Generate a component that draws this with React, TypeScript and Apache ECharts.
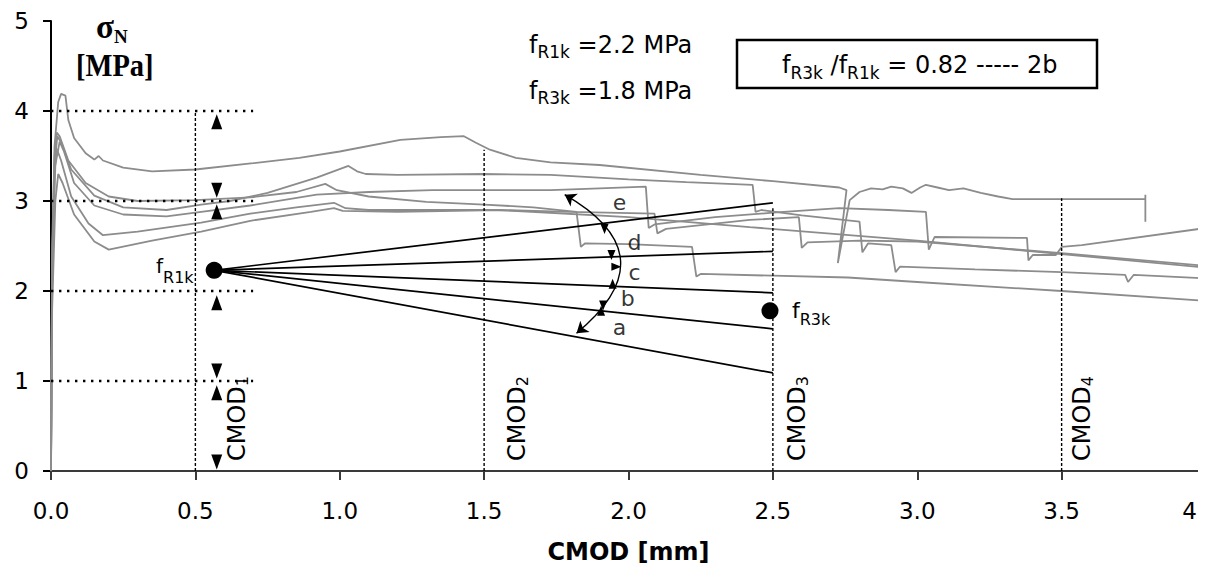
import React, { useEffect, useRef } from "react";
import * as echarts from "echarts";

// ---------- data ----------
const xTickValues = [0, 0.5, 1, 1.5, 2, 2.5, 3, 3.5, 4];

const specimenA: number[][] = [
  [0, 0], [0.003, 2.0], [0.012, 3.6], [0.025, 4.1], [0.035, 4.19], [0.05, 4.17], [0.06, 3.9],
  [0.08, 3.7], [0.12, 3.53], [0.15, 3.46], [0.165, 3.5], [0.18, 3.45], [0.25, 3.37], [0.35, 3.33],
  [0.5, 3.35], [0.7, 3.42], [0.86, 3.48], [1.0, 3.55], [1.21, 3.68], [1.35, 3.71], [1.43, 3.72],
  [1.47, 3.65], [1.52, 3.57], [1.61, 3.48], [1.73, 3.43], [1.9, 3.4], [2.25, 3.29], [2.5, 3.22],
  [2.73, 3.15], [2.755, 3.12], [2.725, 2.31], [2.766, 3.01], [2.8, 3.1], [2.84, 3.14], [2.88, 3.13],
  [2.91, 3.16], [2.95, 3.14], [2.98, 3.09], [3.01, 3.15], [3.03, 3.18], [3.07, 3.15], [3.11, 3.12],
  [3.16, 3.14], [3.22, 3.09], [3.28, 3.05], [3.33, 3.02], [3.79, 3.02], [3.79, 3.07], [3.79, 2.77],
];
const specimenB: number[][] = [
  [0, 0], [0.004, 2.3], [0.012, 3.4], [0.022, 3.72], [0.035, 3.65], [0.07, 3.35], [0.15, 3.06],
  [0.25, 2.93], [0.4, 2.9], [0.52, 2.96], [0.62, 3.0], [0.75, 3.09], [0.92, 3.26], [1.03, 3.39],
  [1.06, 3.33], [1.09, 3.3], [1.2, 3.29], [1.5, 3.3], [1.73, 3.29], [2.0, 3.24], [2.2, 3.21],
  [2.43, 3.18], [2.44, 2.88], [2.46, 2.9], [2.6, 2.84], [2.8, 2.77], [2.81, 2.43], [2.83, 2.53],
  [2.91, 2.51], [2.925, 2.21], [2.94, 2.27], [3.2, 2.24], [3.5, 2.21], [3.72, 2.18], [3.73, 2.1],
  [3.75, 2.18], [4.0, 2.14],
];
const specimenC: number[][] = [
  [0, 0], [0.004, 2.5], [0.012, 3.5], [0.02, 3.76], [0.03, 3.72], [0.06, 3.45], [0.12, 3.2],
  [0.2, 3.05], [0.3, 3.0], [0.5, 3.01], [0.69, 3.04], [0.85, 3.1], [0.95, 3.19], [0.99, 3.12],
  [1.1, 3.05], [1.3, 2.99], [1.5, 2.96], [1.67, 2.93], [1.82, 2.88], [1.835, 2.49], [1.85, 2.53],
  [2.0, 2.52], [2.22, 2.49], [2.235, 2.16], [2.25, 2.19], [2.5, 2.17], [2.76, 2.15], [3.0, 2.1],
  [3.5, 2.0], [4.0, 1.89],
];
const specimenD: number[][] = [
  [0, 0], [0.004, 2.2], [0.015, 3.4], [0.03, 3.66], [0.045, 3.55], [0.08, 3.2], [0.15, 2.95],
  [0.25, 2.85], [0.4, 2.83], [0.52, 2.88], [0.69, 2.95], [0.92, 3.07], [1.1, 3.1], [1.32, 3.12],
  [1.73, 3.12], [1.9, 3.14], [2.06, 3.16], [2.07, 2.7], [2.09, 2.74], [2.3, 2.82], [2.5, 2.87],
  [2.73, 2.92], [2.9, 2.9], [3.03, 2.88], [3.04, 2.46], [3.06, 2.6], [3.38, 2.59], [3.385, 2.34],
  [3.4, 2.4], [3.48, 2.4], [3.5, 2.49], [3.57, 2.51], [4.0, 2.7],
];
const specimenE: number[][] = [
  [0, 0], [0.004, 2.0], [0.012, 3.3], [0.02, 3.58], [0.035, 3.45], [0.07, 3.05], [0.13, 2.75],
  [0.18, 2.62], [0.3, 2.66], [0.52, 2.76], [0.69, 2.86], [0.85, 2.93], [0.98, 2.98], [1.02, 2.92],
  [1.1, 2.9], [1.55, 2.9], [2.0, 2.82], [2.42, 2.71], [3.0, 2.56], [3.5, 2.41], [4.0, 2.26],
];
const specimenF: number[][] = [
  [0, 0], [0.004, 1.8], [0.015, 3.0], [0.025, 3.3], [0.04, 3.2], [0.08, 2.85], [0.15, 2.55],
  [0.2, 2.46], [0.35, 2.56], [0.52, 2.66], [0.69, 2.78], [0.9, 2.88], [0.98, 2.92], [1.01, 2.89],
  [1.2, 2.88], [1.55, 2.9], [1.8, 2.88], [2.09, 2.86], [2.1, 2.64], [2.13, 2.69], [2.42, 2.79],
  [2.59, 2.82], [2.6, 2.48], [2.62, 2.54], [2.8, 2.56], [3.0, 2.55], [3.5, 2.42], [4.0, 2.28],
];
const specimens = [specimenA, specimenB, specimenC, specimenD, specimenE, specimenF];

const fR1kPoint = [0.565, 2.23];
const fR3kPoint = [2.49, 1.78];
const fanLabels = ["a", "b", "c", "d", "e"];
const fanEndX = 2.5;
const fanEndValues = [1.09, 1.58, 1.98, 2.44, 2.98];
const fanLabelPos = [[1.969, 1.59], [1.997, 1.92], [2.021, 2.21], [2.021, 2.54], [1.969, 2.98]];

const refLevels = [1, 2, 3, 4];
const refLevelEndX = 0.7;
const cmodX = [0.5, 1.5, 2.5, 3.5];
const cmodTop = [4.0, 3.57, 2.92, 3.03];
const cmodSubs = ["1", "2", "3", "4"];

const boundMarkX = 0.574;
const boundMarkY = [3.88, 3.12, 2.88, 1.87, 1.11, 0.87, 0.1];
const boundMarkDir = ["up", "down", "up", "up", "down", "up", "down"];

const arcStart = [1.779, 3.07];
const arcEnd = [1.82, 1.53];
const arcMarks = [[1.917, 2.69], [1.941, 2.4], [1.958, 2.27], [1.945, 2.08], [1.912, 1.84], [1.905, 1.78]];
const arcMarkDir = ["down", "down", "right", "up", "down", "up"];

// ---------- styles ----------
const FONT = '"DejaVu Sans", "Liberation Sans", sans-serif';
const SERIF = '"Liberation Serif", "DejaVu Serif", serif';
const GREY = "#8c8c8c";

const rot = (d: string) => (d === "down" ? 180 : d === "right" ? -90 : d === "left" ? 90 : 0);

function buildOption() {
  const series: any[] = [];
  specimens.forEach((d, i) =>
    series.push({
      type: "line", name: "specimen" + (i + 1), data: d, symbol: "none", showSymbol: false,
      lineStyle: { color: GREY, width: 1.8 }, z: 2, silent: true,
    })
  );
  refLevels.forEach((l) =>
    series.push({
      type: "line", data: [[0, l], [refLevelEndX, l]], symbol: "none",
      lineStyle: { color: "#000", width: 2.4, type: [2.4, 5.6] }, z: 3, silent: true,
    })
  );
  cmodX.forEach((x, i) =>
    series.push({
      type: "line", data: [[x, 0], [x, cmodTop[i]]], symbol: "none",
      lineStyle: { color: "#000", width: 1.4, type: [3, 2] }, z: 3, silent: true,
    })
  );
  fanEndValues.forEach((v) =>
    series.push({
      type: "line", data: [fR1kPoint, [fanEndX, v]], symbol: "none",
      lineStyle: { color: "#000", width: 1.7 }, z: 4, silent: true,
    })
  );
  series.push({
    type: "scatter", data: [fR1kPoint, fR3kPoint], symbol: "circle", symbolSize: 17,
    itemStyle: { color: "#000", opacity: 1 }, z: 6, silent: true,
  });
  series.push({
    type: "scatter",
    data: boundMarkY.map((y, i) => ({ value: [boundMarkX, y], symbolRotate: rot(boundMarkDir[i]) })),
    symbol: "triangle", symbolSize: [11, 15], itemStyle: { color: "#000", opacity: 1 }, z: 6, silent: true,
  });
  series.push({
    type: "lines", coordinateSystem: "cartesian2d",
    data: [{ coords: [arcStart, arcEnd] }],
    symbol: ["arrow", "arrow"], symbolSize: 11,
    lineStyle: { color: "#000", width: 1.4, curveness: 0.72, opacity: 1 }, z: 6, silent: true,
  });
  series.push({
    type: "scatter",
    data: arcMarks.map((p, i) => ({ value: p, symbolRotate: rot(arcMarkDir[i]) })),
    symbol: "triangle", symbolSize: [8, 10], itemStyle: { color: "#000", opacity: 1 }, z: 6, silent: true,
  });
  series.push({
    type: "scatter",
    data: fanLabelPos.map((p, i) => ({ value: p, name: fanLabels[i] })),
    symbolSize: 0,
    label: { show: true, position: "inside", formatter: "{b}", fontFamily: FONT, fontSize: 22, color: "#000" },
    z: 7, silent: true,
  });

  return {
    animation: false,
    backgroundColor: "#fff",
    grid: { left: 51, right: 5, top: 21, bottom: 103, containLabel: false, outerBoundsMode: "none" },
    xAxis: {
      type: "value", min: 0, max: 4, interval: 0.5,
      axisLine: { show: true, onZero: false, lineStyle: { color: "#3a3a3a", width: 2 } },
      axisTick: { show: true, length: 9, lineStyle: { color: "#3a3a3a", width: 2 } },
      axisLabel: {
        fontFamily: FONT, fontSize: 23, color: "#000", margin: 28, showMaxLabel: true, showMinLabel: true,
        hideOverlap: false, alignMaxLabel: "right",
        formatter: (v: number) =>
          v === 4 ? "{e|4}" : xTickValues.indexOf(v) >= 0 ? v.toFixed(1) : "",
        rich: { e: { fontFamily: FONT, fontSize: 23, color: "#000", padding: [0, 9, 0, 0] } },
      },
      splitLine: { show: false },
      name: "CMOD [mm]", nameLocation: "middle", nameGap: 69,
      nameTextStyle: { fontFamily: FONT, fontWeight: "bold", fontSize: 24, color: "#000" },
    },
    yAxis: {
      type: "value", min: 0, max: 5, interval: 1,
      axisLine: { show: true, lineStyle: { color: "#000", width: 2 } },
      axisTick: { show: true, length: 8, lineStyle: { color: "#000", width: 2 } },
      axisLabel: { fontFamily: FONT, fontSize: 23, color: "#000", margin: 22 },
      splitLine: { show: false },
    },
    series,
  };
}

function sub(fs: number, pad: number) {
  return { fontSize: fs, fontFamily: FONT, fill: "#000", padding: [pad, 0, 0, 0] };
}

function buildGraphic() {
  const g: any[] = [];
  // top annotations
  g.push({
    type: "text", x: 529, y: 45, z: 50,
    style: {
      text: "{m|f}{s|R1k}{m| =2.2 MPa}", fill: "#000", align: "left", verticalAlign: "middle",
      rich: { m: { fontSize: 24, fontFamily: FONT, fill: "#000" }, s: sub(17, 13) },
    },
  });
  g.push({
    type: "text", x: 529, y: 91, z: 50,
    style: {
      text: "{m|f}{s|R3k}{m| =1.8 MPa}", fill: "#000", align: "left", verticalAlign: "middle",
      rich: { m: { fontSize: 24, fontFamily: FONT, fill: "#000" }, s: sub(17, 13) },
    },
  });
  g.push({
    type: "rect", z: 50, shape: { x: 737, y: 40, width: 360, height: 48 },
    style: { fill: "#fff", stroke: "#000", lineWidth: 2.5 },
  });
  g.push({
    type: "text", x: 782, y: 65, z: 51,
    style: {
      text: "{m|f}{s|R3k}{m| /f}{s|R1k}{m| = 0.82 ----- 2b}", fill: "#000", align: "left", verticalAlign: "middle",
      rich: { m: { fontSize: 24, fontFamily: FONT, fill: "#000" }, s: sub(17, 15) },
    },
  });
  // y axis name
  g.push({
    type: "text", x: 96, y: 27, z: 50,
    style: {
      text: "{g|σ}{n|N}", fill: "#000", align: "left", verticalAlign: "middle",
      rich: {
        g: { fontSize: 33, fontFamily: SERIF, fontWeight: "bold", fill: "#000" },
        n: { fontSize: 19, fontFamily: SERIF, fontWeight: "bold", fill: "#000", padding: [18, 0, 0, 0] },
      },
    },
  });
  g.push({
    type: "text", x: 76, y: 65, z: 50, scaleX: 0.92,
    style: {
      text: "[MPa]", fill: "#000", align: "left", verticalAlign: "middle",
      fontSize: 31, fontFamily: SERIF, fontWeight: "bold",
    },
  });
  // point labels
  g.push({
    type: "text", x: 156, y: 266, z: 50,
    style: {
      text: "{m|f}{s|R1k}", fill: "#000", align: "left", verticalAlign: "middle",
      rich: { m: { fontSize: 20, fontFamily: FONT, fill: "#000" }, s: sub(16, 22) },
    },
  });
  g.push({
    type: "text", x: 792, y: 310, z: 50,
    style: {
      text: "{m|f}{s|R3k}", fill: "#000", align: "left", verticalAlign: "middle",
      rich: { m: { fontSize: 22, fontFamily: FONT, fill: "#000" }, s: sub(16, 18) },
    },
  });
  // CMOD labels (rotated)
  const cmodLabelPx = [237, 517, 797, 1082];
  cmodSubs.forEach((s, i) =>
    g.push({
      type: "text", x: cmodLabelPx[i], y: 461, rotation: Math.PI / 2, z: 50,
      style: {
        text: "{m|CMOD}{s|" + s + "}", fill: "#000", align: "left", verticalAlign: "middle",
        rich: { m: { fontSize: 24, fontFamily: FONT, fill: "#000" }, s: sub(16, 10) },
      },
    })
  );
  // crop edge of the original picture
  g.push({
    type: "rect", z: 100, shape: { x: 1198, y: 0, width: 13, height: 574 },
    style: { fill: "#fff", stroke: null },
  });
  return g;
}

export default function App() {
  const ref = useRef<HTMLDivElement>(null);
  useEffect(() => {
    if (!ref.current) return;
    const chart = echarts.init(ref.current, null, { renderer: "svg" });
    const option: any = buildOption();
    option.graphic = buildGraphic();
    chart.setOption(option);
    return () => chart.dispose();
  }, []);
  return (
    <div
      ref={ref}
      style={{ position: "absolute", left: 0, top: 0, width: 1211, height: 574, background: "#fff" }}
    />
  );
}
